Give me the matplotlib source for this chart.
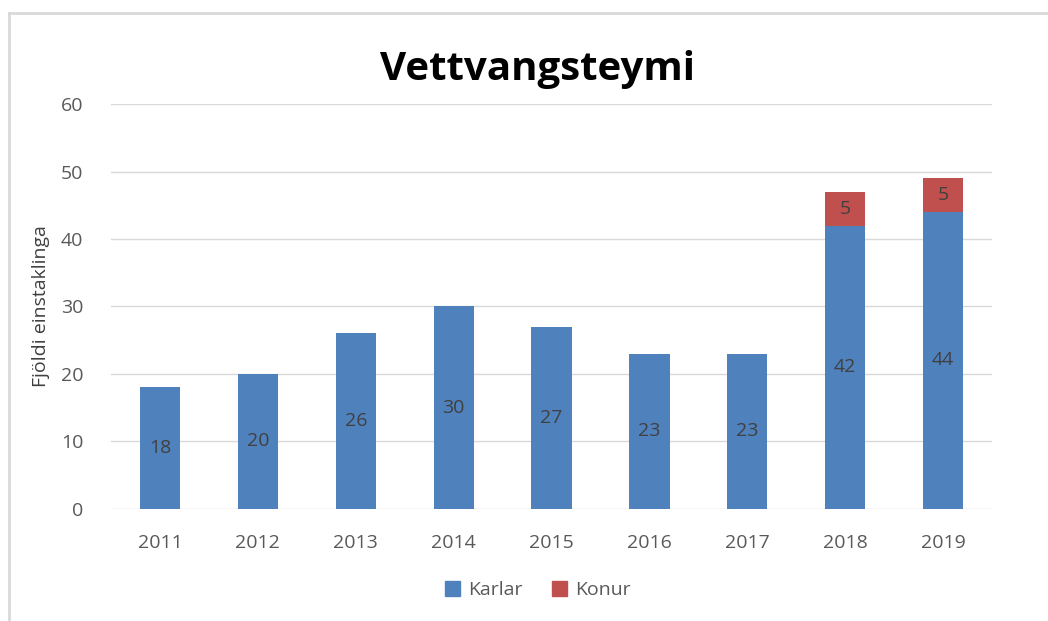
import matplotlib.pyplot as plt
from matplotlib.lines import Line2D
from matplotlib.patches import Patch

# Gögn
years = ["2011", "2012", "2013", "2014", "2015", "2016", "2017", "2018", "2019"]
karlar = [18, 20, 26, 30, 27, 23, 23, 42, 44]
konur = [0, 0, 0, 0, 0, 0, 0, 5, 5]

blue = "#4f81bd"
red = "#c0504d"

plt.rcParams["font.family"] = ["Open Sans", "DejaVu Sans"]

fig = plt.figure(figsize=(10.48, 6.21), dpi=100)
ax = fig.add_axes([0.106, 0.1804, 0.8406, 0.6521])

x = range(len(years))
ax.bar(x, karlar, width=0.41, color=blue, zorder=3)
ax.bar(x, konur, width=0.41, bottom=karlar, color=red, zorder=3)

for i in x:
    ax.text(i, karlar[i] / 2, str(karlar[i]), ha="center", va="center",
            fontsize=14, color="#404040", zorder=4)
    if konur[i] > 0:
        ax.text(i, karlar[i] + konur[i] / 2, str(konur[i]), ha="center", va="center",
                fontsize=14, color="#404040", zorder=4)

ax.set_xlim(-0.5, len(years) - 0.5)
ax.set_ylim(0, 60)
ax.set_yticks(range(0, 61, 10))
ax.set_xticks(list(x))
ax.set_xticklabels(years)
ax.grid(axis="y", color="#d9d9d9", linewidth=1, zorder=0)
for s in ax.spines.values():
    s.set_visible(False)
ax.tick_params(length=0, labelsize=14, labelcolor="#595959", pad=18)
ax.tick_params(axis="y", pad=20)
ax.set_ylabel("Fjöldi einstaklinga", fontsize=14, color="#404040", labelpad=8)

fig.text(0.513, 0.888, "Vettvangsteymi", ha="center", va="center",
         fontsize=29, fontweight="bold", color="black")

handles = [Patch(color=blue, label="Karlar"), Patch(color=red, label="Konur")]
fig.legend(handles=handles, loc="center", bbox_to_anchor=(0.513, 0.05), ncol=2,
           frameon=False, fontsize=14, handlelength=0.8, handleheight=0.8,
           handletextpad=0.4, columnspacing=1.5, labelcolor="#595959")

# Rammi
fig.add_artist(Line2D([0.009, 0.009], [0.0, 0.979], color="#d9d9d9", linewidth=2,
                      transform=fig.transFigure))
fig.add_artist(Line2D([0.009, 1.0], [0.979, 0.979], color="#d9d9d9", linewidth=2,
                      transform=fig.transFigure))

fig.savefig("out.png", dpi=100)
